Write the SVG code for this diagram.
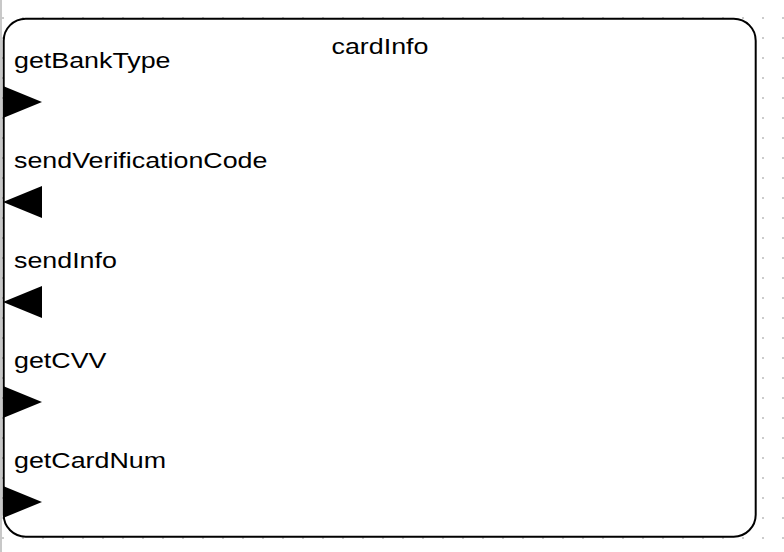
<svg xmlns="http://www.w3.org/2000/svg" width="784" height="552" viewBox="0 0 784 552">
  <defs>
    <pattern id="grid" patternUnits="userSpaceOnUse" x="2" y="17" width="20" height="20">
      <rect x="0" y="0" width="2" height="2" fill="#cccccc"/>
    </pattern>
    <style>
      .lbl { font-family: "Liberation Sans", Arial, sans-serif; font-size: 22px; fill: #000; }
      .port { fill: #000; stroke: none; }
      .frame { fill: #fff; stroke: #000; stroke-width: 2; }
    </style>
  </defs>

  <!-- canvas background with dot grid -->
  <rect x="0" y="0" width="784" height="552" fill="#fff"/>
  <rect x="0" y="0" width="784" height="552" fill="url(#grid)"/>
  <rect x="0" y="0" width="2" height="552" fill="#c8c8c8"/>

  <!-- component block -->
  <g id="cardInfo">
    <rect class="frame" x="3.7" y="18.7" width="752" height="518" rx="22" ry="22"/>
    <text class="lbl" text-anchor="middle" transform="translate(380,54) scale(1.22,1)">cardInfo</text>
  </g>

  <!-- ports -->
  <g id="connectors">
    <g id="port-getBankType">
      <polygon class="port" points="3,86 42,102 3,118"/>
      <text class="lbl" transform="translate(14,67.5) scale(1.22,1)">getBankType</text>
    </g>
    <g id="port-sendVerificationCode">
      <polygon class="port" points="42,186 3,202 42,218"/>
      <text class="lbl" transform="translate(14,167.5) scale(1.22,1)">sendVerificationCode</text>
    </g>
    <g id="port-sendInfo">
      <polygon class="port" points="42,286 3,302 42,318"/>
      <text class="lbl" transform="translate(14,267.5) scale(1.22,1)">sendInfo</text>
    </g>
    <g id="port-getCVV">
      <polygon class="port" points="3,386 42,402 3,418"/>
      <text class="lbl" transform="translate(14,367.5) scale(1.22,1)">getCVV</text>
    </g>
    <g id="port-getCardNum">
      <polygon class="port" points="3,486 42,502 3,518"/>
      <text class="lbl" transform="translate(14,467.5) scale(1.22,1)">getCardNum</text>
    </g>
  </g>
</svg>
